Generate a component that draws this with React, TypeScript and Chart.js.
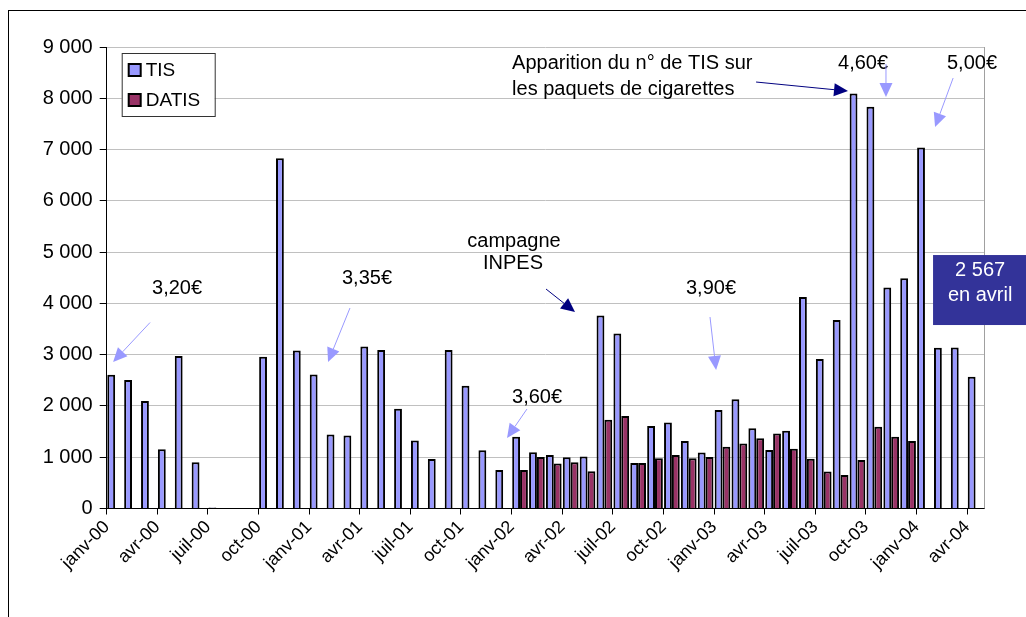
import React, { useEffect, useRef } from "react";
import { Chart, registerables } from "chart.js";

Chart.register(...registerables);

const categories = [
  "janv-00", "févr-00", "mars-00", "avr-00", "mai-00", "juin-00", "juil-00", "août-00", "sept-00", "oct-00", "nov-00", "déc-00",
  "janv-01", "févr-01", "mars-01", "avr-01", "mai-01", "juin-01", "juil-01", "août-01", "sept-01", "oct-01", "nov-01", "déc-01",
  "janv-02", "févr-02", "mars-02", "avr-02", "mai-02", "juin-02", "juil-02", "août-02", "sept-02", "oct-02", "nov-02", "déc-02",
  "janv-03", "févr-03", "mars-03", "avr-03", "mai-03", "juin-03", "juil-03", "août-03", "sept-03", "oct-03", "nov-03", "déc-03",
  "janv-04", "févr-04", "mars-04", "avr-04",
];

const tisValues = [
  2610, 2505, 2095, 1155, 2975, 900, 20, null, null, 2960, 6830, 3080,
  2615, 1445, 1425, 3160, 3090, 1945, 1325, 965, 3090, 2395, 1135, 750,
  1400, 1095, 1045, 1000, 1015, 3765, 3415, 885, 1610, 1675, 1315, 1090,
  1920, 2130, 1565, 1140, 1515, 4125, 2915, 3675, 8095, 7835, 4310, 4490,
  7040, 3135, 3140, 2567,
];

const datisValues = [
  null, null, null, null, null, null, null, null, null, null, null, null,
  null, null, null, null, null, null, null, null, null, null, null, null,
  750, 1005, 880, 900, 725, 1730, 1805, 885, 980, 1045, 980, 1005,
  1205, 1270, 1370, 1465, 1165, 970, 720, 655, 945, 1595, 1400, 1315,
  null, null, null, null,
];

const yTicks = [0, 1000, 2000, 3000, 4000, 5000, 6000, 7000, 8000, 9000];

// annotation texts anchored in data coordinates (category index, value)
const noteTexts = [
  { text: "3,20€", x: 3.67, y: 4300, align: "center" },
  { text: "3,35€", x: 14.93, y: 4495, align: "center" },
  { text: "3,60€", x: 25.01, y: 2174, align: "center" },
  { text: "campagne", x: 23.64, y: 5216, align: "center" },
  { text: "INPES", x: 23.58, y: 4787, align: "center" },
  { text: "3,90€", x: 35.32, y: 4300, align: "center" },
  { text: "Apparition du n° de TIS sur", x: 23.53, y: 8687, align: "left" },
  { text: "les paquets de cigarettes", x: 23.53, y: 8180, align: "left" },
  { text: "4,60€", x: 44.33, y: 8687, align: "center" },
  { text: "5,00€", x: 50.79, y: 8687, align: "center" },
];

const noteArrows = [
  { x1: 2.07, y1: 3627, x2: -0.12, y2: 2857, color: "#9999FF" },
  { x1: 13.92, y1: 3910, x2: 12.62, y2: 2857, color: "#9999FF" },
  { x1: 24.41, y1: 1940, x2: 23.23, y2: 1375, color: "#9999FF" },
  { x1: 25.54, y1: 4280, x2: 27.26, y2: 3832, color: "#000080" },
  { x1: 35.26, y1: 3734, x2: 35.62, y2: 2701, color: "#9999FF" },
  { x1: 37.99, y1: 8317, x2: 43.44, y2: 8141, color: "#000080" },
  { x1: 45.69, y1: 8668, x2: 45.69, y2: 8024, color: "#9999FF" },
  { x1: 49.67, y1: 8395, x2: 48.6, y2: 7439, color: "#9999FF" },
];

const noteBox = { x1: 48.48, x2: 54, y1: 4943, y2: 3578, textX: 51.27, lines: [{ t: "2 567", y: 4651 }, { t: "en avril", y: 4163 }] };

const FAMILY = '"Liberation Sans", Arial, sans-serif';
const FONT = "20px " + FAMILY;

function drawArrow(ctx: CanvasRenderingContext2D, x1: number, y1: number, x2: number, y2: number, color: string) {
  const ang = Math.atan2(y2 - y1, x2 - x1);
  const hl = 14;
  const hw = 6.5;
  const bx = x2 - hl * Math.cos(ang);
  const by = y2 - hl * Math.sin(ang);
  ctx.strokeStyle = color;
  ctx.fillStyle = color;
  ctx.lineWidth = 1;
  ctx.beginPath();
  ctx.moveTo(x1, y1);
  ctx.lineTo(bx, by);
  ctx.stroke();
  ctx.beginPath();
  ctx.moveTo(x2, y2);
  ctx.lineTo(bx + hw * Math.sin(ang), by - hw * Math.cos(ang));
  ctx.lineTo(bx - hw * Math.sin(ang), by + hw * Math.cos(ang));
  ctx.closePath();
  ctx.fill();
}

const notesPlugin = {
  id: "notes",
  afterDraw(chart: any) {
    const { ctx, chartArea, scales } = chart;
    const X = (i: number) => scales.x.getPixelForValue(i);
    const Y = (v: number) => scales.y.getPixelForValue(v);
    ctx.save();
    // plot-area right border
    ctx.strokeStyle = "#a0a0a0";
    ctx.lineWidth = 1;
    ctx.beginPath();
    ctx.moveTo(chartArea.right + 0.5, chartArea.top);
    ctx.lineTo(chartArea.right + 0.5, chartArea.bottom);
    ctx.stroke();

    // texts
    ctx.font = FONT;
    ctx.fillStyle = "#000";
    ctx.textBaseline = "middle";
    for (const t of noteTexts) {
      ctx.textAlign = t.align as CanvasTextAlign;
      ctx.fillText(t.text, X(t.x), Y(t.y));
    }
    for (const a of noteArrows) drawArrow(ctx, X(a.x1), Y(a.y1), X(a.x2), Y(a.y2), a.color);

    // box
    const bx1 = X(noteBox.x1), by1 = Y(noteBox.y1);
    ctx.fillStyle = "#333399";
    ctx.fillRect(bx1, by1, X(noteBox.x2) - bx1, Y(noteBox.y2) - by1);
    ctx.fillStyle = "#fff";
    ctx.textAlign = "center";
    for (const l of noteBox.lines) ctx.fillText(l.t, X(noteBox.textX), Y(l.y));

    // legend
    const lx = chartArea.left + 15, ly = chartArea.top + 6;
    ctx.fillStyle = "#fff";
    ctx.fillRect(lx, ly, 93, 63);
    ctx.strokeStyle = "#333";
    ctx.lineWidth = 1;
    ctx.strokeRect(lx + 0.5, ly + 0.5, 93, 63);
    const items = [
      { label: "TIS", color: "#9999FF", dy: 17 },
      { label: "DATIS", color: "#993366", dy: 47 },
    ];
    ctx.textAlign = "left";
    ctx.font = "19px " + FAMILY;
    for (const it of items) {
      ctx.fillStyle = it.color;
      ctx.fillRect(lx + 7, ly + it.dy - 6, 12, 12);
      ctx.strokeStyle = "#000";
      ctx.lineWidth = 2;
      ctx.strokeRect(lx + 7, ly + it.dy - 6, 12, 12);
      ctx.fillStyle = "#000";
      ctx.fillText(it.label, lx + 24, ly + it.dy + 1);
    }
    ctx.restore();
  },
};

export default function App() {
  const ref = useRef<HTMLCanvasElement>(null);
  useEffect(() => {
    if (!ref.current) return;
    const chart = new Chart(ref.current, {
      type: "bar",
      data: {
        labels: categories,
        datasets: [
          { label: "TIS", data: tisValues as any, backgroundColor: "#9999FF", borderColor: "#000", borderWidth: 2 },
          { label: "DATIS", data: datisValues as any, backgroundColor: "#993366", borderColor: "#000", borderWidth: 2 },
        ],
      },
      options: {
        responsive: false,
        animation: false,
        events: [],
        layout: { padding: { top: 47, right: 42, left: 0, bottom: 0 } },
        datasets: { bar: { barPercentage: 1, categoryPercentage: 0.93 } },
        plugins: { legend: { display: false }, tooltip: { enabled: false }, title: { display: false } },
        scales: {
          x: {
            type: "category",
            offset: true,
            afterFit: (s: any) => { s.height = 108.5; },
            grid: {
              offset: true,
              drawOnChartArea: false,
              drawTicks: true,
              tickLength: 6,
              color: (c: any) => (c.index % 3 === 0 ? "#000" : "rgba(0,0,0,0)"),
              tickColor: (c: any) => (c.index % 3 === 0 ? "#000" : "rgba(0,0,0,0)"),
            },
            border: { color: "#000", width: 1 },
            ticks: {
              autoSkip: false,
              maxRotation: 45,
              minRotation: 45,
              labelOffset: -8.4,
              padding: 2,
              color: "#000",
              font: { family: FAMILY, size: 18 },
              callback: (_v: any, i: number) => (i % 3 === 0 ? categories[i] : ""),
            },
          },
          y: {
            min: 0,
            max: 9000,
            afterFit: (s: any) => { s.width = 106.7; },
            afterBuildTicks: (s: any) => { s.ticks = yTicks.map((v) => ({ value: v })); },
            grid: { color: "#c0c0c0", tickColor: "#000", tickLength: 7, drawTicks: true },
            border: { color: "#000", width: 1 },
            ticks: {
              padding: 7,
              color: "#000",
              font: { family: FAMILY, size: 20 },
              callback: (v: any) => String(v).replace(/\B(?=(\d{3})+(?!\d))/g, " "),
            },
          },
        },
      },
      plugins: [notesPlugin],
    });
    return () => chart.destroy();
  }, []);
  return (
    <div style={{ position: "fixed", left: 0, top: 0, width: 1026, height: 617, background: "#fff", overflow: "hidden" }}>
      <canvas ref={ref} width={1026} height={617} style={{ position: "absolute", left: 0, top: 0 }} />
      <div style={{ position: "absolute", left: 8, top: 10, right: -2, bottom: -2, borderLeft: "1px solid #000", borderTop: "1px solid #000", pointerEvents: "none" }} />
    </div>
  );
}
